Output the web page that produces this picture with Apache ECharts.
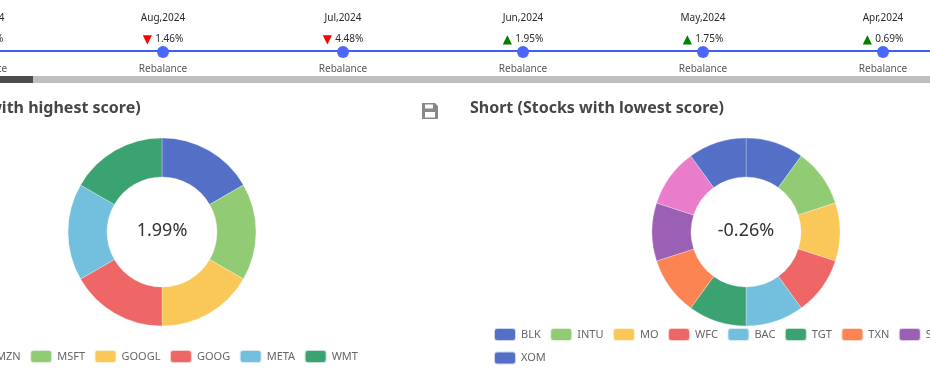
<!DOCTYPE html>
<html><head><meta charset="utf-8">
<style>html,body{margin:0;padding:0;background:#fff;overflow:hidden}#c{width:930px;height:377px}</style>
<script src="https://cdn.jsdelivr.net/npm/echarts@6/dist/echarts.min.js"></script>
</head><body><div id="c"></div>
<script>
const FONT = '"Noto Sans", sans-serif';
const months = ['Sep,2024','Aug,2024','Jul,2024','Jun,2024','May,2024','Apr,2024'];
const returns = [2.10,-1.46,-4.48,1.95,1.75,0.69];
const eventLabels = ['Rebalance','Rebalance','Rebalance','Rebalance','Rebalance','Rebalance'];
const longNames = ['AMZN','MSFT','GOOGL','GOOG','META','WMT'];
const longWeights = [1,1,1,1,1,1];
const shortNames = ['BLK','INTU','MO','WFC','BAC','TGT','TXN','SBUX','UNH','XOM'];
const shortWeights = [1,1,1,1,1,1,1,1,1,1];
const longReturn = '1.99%';
const shortReturn = '-0.26%';
const palette = ['#5470c6','#91cc75','#fac858','#ee6666','#73c0de','#3ba272','#fc8452','#9a60b4','#ea7ccc'];

const chart = echarts.init(document.getElementById('c'), null, {renderer:'canvas'});
const toPie = (names, vals) => names.map((n,i)=>({name:n,value:vals[i],itemStyle:{color:palette[i%palette.length]}}));
const pieBase = {type:'pie', radius:[55,94], label:{show:false}, labelLine:{show:false}, silent:true, startAngle:90, itemStyle:{borderWidth:0.4,borderColor:'rgba(255,255,255,0.7)'}};
const legendBase = {orient:'horizontal', icon:'roundRect', itemWidth:22, itemHeight:13, itemGap:8.5, padding:0,
  textStyle:{fontFamily:FONT,fontSize:11,color:'#666'}, selectedMode:false};
chart.setOption({
  animation:false,
  title:[
    {text:'Long (Stocks with highest score)', left:-117, top:100, padding:0, textStyle:{fontFamily:FONT,fontSize:16,fontWeight:'bold',color:'#464646'}},
    {text:'Short (Stocks with lowest score)', left:470, top:100, padding:0, textStyle:{fontFamily:FONT,fontSize:16,fontWeight:'bold',color:'#464646'}},
    {text:longReturn, left:162, top:222, padding:0, textAlign:'center', textStyle:{fontFamily:FONT,fontSize:18,fontWeight:'normal',color:'#333'}},
    {text:shortReturn, left:746, top:222, padding:0, textAlign:'center', textStyle:{fontFamily:FONT,fontSize:18,fontWeight:'normal',color:'#333'}}
  ],
  toolbox:{left:407, top:88, itemSize:16, feature:{saveAsImage:{show:true,title:'',
    icon:'path://M0 0H13L16 3V16H0ZM3 1.5V5.5H11V1.5ZM3 9V14.5H13V9Z'}},
    iconStyle:{color:'#888',borderWidth:0}},
  legend:[
    Object.assign({},legendBase,{data:longNames,left:-39,top:349,width:500}),
    Object.assign({},legendBase,{data:shortNames,left:493,top:327,width:545})
  ],
  grid:{left:-17,top:1,width:1080,height:100,outerBoundsMode:'none'},
  xAxis:{type:'value',min:0,max:6,axisLine:{show:true,onZero:true,lineStyle:{color:'#3f5ef5',width:2}},axisTick:{show:false},axisLabel:{show:false},splitLine:{show:false}},
  yAxis:{type:'value',min:-1,max:1,show:false},
  series:[
    {type:'scatter',silent:true,symbol:'circle',symbolSize:12,symbolOffset:[0,1],itemStyle:{color:'#4b67ff',opacity:1},
     data:months.map((m,i)=>[i,0]),
     label:{show:true,position:'top',distance:-4,align:'center',
       formatter:p=>{const i=p.dataIndex,r=returns[i];return '{d|'+months[i]+'}\n{'+(r<0?'dn|▼':'up|▲')+'} {p|'+Math.abs(r).toFixed(2)+'%}';},
       rich:{d:{fontFamily:FONT,fontSize:10,color:'#2a2a2a',lineHeight:21},
             p:{fontFamily:FONT,fontSize:10,color:'#2a2a2a',lineHeight:21},
             up:{fontFamily:'DejaVu Sans',fontSize:12,color:'#008000',lineHeight:21},
             dn:{fontFamily:'DejaVu Sans',fontSize:12,color:'#ff0000',lineHeight:21}}}},
    {type:'scatter',silent:true,symbolSize:0,data:months.map((m,i)=>[i,0]),
     label:{show:true,position:'bottom',distance:13,formatter:p=>eventLabels[p.dataIndex],fontFamily:FONT,fontSize:10,color:'#2a2a2a'}},
    Object.assign({},pieBase,{center:[162,232],data:toPie(longNames,longWeights)}),
    Object.assign({},pieBase,{center:[746,232],data:toPie(shortNames,shortWeights)})
  ],
  graphic:[
    {type:'rect',shape:{x:0,y:76,width:930,height:7},style:{fill:'#bfbfbf'},silent:true},
    {type:'rect',shape:{x:0,y:76,width:33,height:7},style:{fill:'#4d4d4d'},silent:true}
  ]
});
</script></body></html>
